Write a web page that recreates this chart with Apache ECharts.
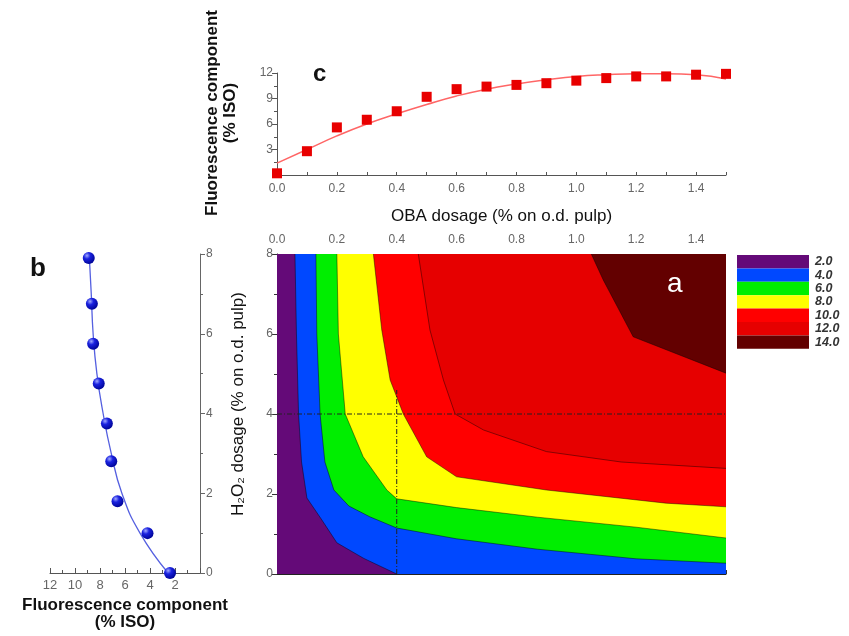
<!DOCTYPE html>
<html>
<head>
<meta charset="utf-8">
<script src="https://cdn.jsdelivr.net/npm/echarts@6/dist/echarts.min.js"></script>
<style>
  html, body { margin: 0; padding: 0; background: #fff; }
  #chart { width: 849px; height: 636px; }
</style>
</head>
<body>
<div id="chart"></div>
<script>
// panel c: fluorescence vs OBA dosage
const obaDose = [0, 0.1, 0.2, 0.3, 0.4, 0.5, 0.6, 0.7, 0.8, 0.9, 1.0, 1.1, 1.2, 1.3, 1.4, 1.5];
const fluorOba = [0.2, 2.8, 5.6, 6.5, 7.5, 9.2, 10.1, 10.4, 10.6, 10.8, 11.1, 11.4, 11.6, 11.6, 11.8, 11.9];
const fitOba = [1.4, 3.0, 4.6, 6.0, 7.2, 8.3, 9.3, 10.1, 10.7, 11.2, 11.6, 11.8, 11.9, 11.9, 11.8, 11.3];

// panel b: fluorescence vs H2O2 dosage
const h2o2Dose = [0, 1.0, 1.8, 2.8, 3.75, 4.75, 5.75, 6.75, 7.9];
const fluorH2o2 = [2.4, 4.2, 6.6, 7.1, 7.45, 8.1, 8.55, 8.65, 8.9];
const fitH2o2Dose = [0, 1, 2, 3, 4, 5, 6, 7, 7.9];
const fitH2o2 = [2.55, 4.8, 6.25, 7.1, 7.75, 8.25, 8.55, 8.7, 8.85];

// panel a: contour levels and band boundaries [OBA, H2O2], top edge -> bottom/right edge
const contourLevels = [2, 4, 6, 8, 10, 12, 14];
const levelLabels = ['2.0', '4.0', '6.0', '8.0', '10.0', '12.0', '14.0'];
const bandColors = ['#640a78', '#0048ff', '#00ee00', '#ffff00', '#ff0000', '#e60000', '#630000'];
const contourBounds = [
  [[0, 8], [0, 0]],
  [[0.06, 8], [0.065, 6], [0.072, 4], [0.082, 2.8], [0.1, 1.9], [0.15, 1.35], [0.2, 0.78], [0.29, 0.39], [0.4, 0]],
  [[0.13, 8], [0.133, 6], [0.144, 4], [0.16, 2.8], [0.19, 2.1], [0.24, 1.7], [0.31, 1.43], [0.4, 1.15], [0.6, 0.88], [0.87, 0.62], [1.2, 0.38], [1.5, 0.27]],
  [[0.2, 8], [0.205, 6], [0.228, 4], [0.288, 2.93], [0.367, 2.1], [0.4, 1.88], [0.6, 1.66], [0.87, 1.42], [1.2, 1.17], [1.5, 0.9]],
  [[0.322, 8], [0.35, 6.1], [0.378, 4.85], [0.422, 4], [0.5, 2.93], [0.6, 2.43], [0.9, 2.1], [1.3, 1.77], [1.5, 1.68]],
  [[0.472, 8], [0.511, 6.1], [0.556, 4.85], [0.595, 4.0], [0.69, 3.6], [0.9, 3.06], [1.15, 2.8], [1.5, 2.64]],
  [[1.05, 8], [1.09, 7.35], [1.19, 5.93], [1.5, 5.02]]
];
const optLineH = [[0, 4], [1.5, 4]];
const optLineV = [[0.4, 0], [0.4, 4.6]];

const chart = echarts.init(document.getElementById('chart'));

const font = 'Liberation Sans, Arial, sans-serif';
const grey = '#666';
const evenTenth = v => (Math.round(v * 10) % 2 === 0 ? v.toFixed(1) : '');

function bandPolygon(i) {
  const pts = contourBounds[i].slice();
  const last = pts[pts.length - 1];
  if (last[1] === 0) pts.push([1.5, 0]);
  pts.push([1.5, 8]);
  return pts;
}

const option = {
  animation: false,
  textStyle: { fontFamily: font },
  grid: [
    { left: 277, top: 73, width: 449, height: 102 },
    { left: 277, top: 254, width: 449, height: 320 },
    { left: 50, top: 254, width: 150, height: 320 }
  ],
  xAxis: [
    {
      gridIndex: 0, type: 'value', min: 0, max: 1.5, interval: 0.1,
      axisLine: { lineStyle: { color: '#555' } },
      axisTick: { inside: true, length: 3, lineStyle: { color: '#555' } },
      splitLine: { show: false },
      axisLabel: { color: grey, fontSize: 12, margin: 8, formatter: evenTenth },
      name: 'OBA dosage (% on o.d. pulp)', nameLocation: 'middle', nameGap: 33,
      nameTextStyle: { color: '#111', fontSize: 17 }
    },
    {
      gridIndex: 1, type: 'value', position: 'top', min: 0, max: 1.5, interval: 0.1,
      axisLine: { lineStyle: { color: '#222' } },
      axisTick: { length: 4, lineStyle: { color: '#333' } },
      splitLine: { show: false },
      axisLabel: { color: grey, fontSize: 12, margin: 8, formatter: evenTenth }
    },
    {
      gridIndex: 2, type: 'value', inverse: true, min: 0, max: 12, interval: 2,
      axisLine: { lineStyle: { color: '#555' } },
      axisTick: { inside: true, length: 5, lineStyle: { color: '#555' } },
      minorTick: { show: true, splitNumber: 2, length: 3, lineStyle: { color: '#555' } },
      splitLine: { show: false },
      axisLabel: { color: grey, fontSize: 13, margin: 6, formatter: v => (v === 0 ? '' : String(v)) },
      name: 'Fluorescence component\n(% ISO)', nameLocation: 'middle', nameGap: 24,
      nameTextStyle: { color: '#111', fontSize: 17, fontWeight: 'bold', lineHeight: 17 }
    }
  ],
  yAxis: [
    {
      gridIndex: 0, type: 'value', min: 0, max: 12, interval: 3,
      axisLine: { show: true, lineStyle: { color: '#555' } },
      axisTick: { show: true, length: 5, lineStyle: { color: '#555' } },
      minorTick: { show: true, splitNumber: 2, length: 3, lineStyle: { color: '#555' } },
      splitLine: { show: false },
      axisLabel: { color: grey, fontSize: 12, margin: 4, formatter: v => (v === 0 ? '' : String(v)) },
      name: 'Fluorescence component\n(% ISO)', nameLocation: 'middle', nameRotate: 90, nameGap: 38,
      nameTextStyle: { color: '#111', fontSize: 17, fontWeight: 'bold', lineHeight: 18, padding: [0, 0, 0, 22] }
    },
    {
      gridIndex: 1, type: 'value', min: 0, max: 8, interval: 2,
      axisLine: { show: true, lineStyle: { color: '#222' } },
      axisTick: { show: true, length: 5, lineStyle: { color: '#333' } },
      minorTick: { show: true, splitNumber: 2, length: 3, lineStyle: { color: '#333' } },
      splitLine: { show: false },
      axisLabel: { color: grey, fontSize: 12, margin: 4 },
      name: 'H\u2082O\u2082 dosage (% on o.d. pulp)', nameLocation: 'middle', nameRotate: 90, nameGap: 30,
      nameTextStyle: { color: '#111', fontSize: 17, padding: [0, 0, 0, 20] }
    },
    {
      gridIndex: 2, type: 'value', position: 'right', min: 0, max: 8, interval: 2,
      axisLine: { show: true, lineStyle: { color: '#666' } },
      axisTick: { show: true, length: 5, lineStyle: { color: '#666' } },
      minorTick: { show: true, splitNumber: 2, length: 3, lineStyle: { color: '#666' } },
      splitLine: { show: false },
      axisLabel: { color: grey, fontSize: 12, margin: 6 }
    }
  ],
  visualMap: {
    type: 'piecewise', seriesIndex: 2, dimension: 0,
    pieces: contourLevels.map((v, i) => ({ value: v, label: levelLabels[i], color: bandColors[i] })),
    orient: 'vertical', inverse: true, align: 'left', left: 737, top: 255, padding: 0,
    itemWidth: 72, itemHeight: 13.4, itemGap: 0, itemSymbol: 'rect', textGap: 6,
    hoverLink: false, selectedMode: false,
    textStyle: { color: '#333', fontSize: 12.5, fontStyle: 'italic', fontWeight: 'bold' }
  },
  graphic: [
    { type: 'text', z: 100, left: 313, top: 62, style: { text: 'c', font: 'bold 24px ' + font, fill: '#111' } },
    { type: 'text', z: 100, left: 30, top: 256, style: { text: 'b', font: 'bold 26px ' + font, fill: '#111' } },
    { type: 'text', z: 100, left: 667, top: 270, style: { text: 'a', font: '28px ' + font, fill: '#fff' } }
  ],
  series: [
    {
      type: 'scatter', xAxisIndex: 0, yAxisIndex: 0, symbol: 'rect', symbolSize: 10,
      itemStyle: { color: '#e80000', opacity: 1 }, z: 3,
      data: obaDose.map((x, i) => [x, fluorOba[i]])
    },
    {
      type: 'line', xAxisIndex: 0, yAxisIndex: 0, smooth: true, showSymbol: false,
      lineStyle: { color: '#ff6666', width: 1.5 },
      data: obaDose.map((x, i) => [x, fitOba[i]])
    },
    {
      type: 'custom', xAxisIndex: 1, yAxisIndex: 1,
      data: contourLevels.map(v => [v]),
      renderItem(params, api) {
        const i = params.dataIndex;
        const children = [{
          type: 'polygon',
          shape: { points: bandPolygon(i).map(p => api.coord(p)) },
          style: { fill: api.visual('color') }
        }];
        if (i > 0) {
          children.push({
            type: 'polyline',
            shape: { points: contourBounds[i].map(p => api.coord(p)) },
            style: { stroke: 'rgba(0,0,0,0.55)', lineWidth: 0.8, fill: null }
          });
        }
        return { type: 'group', children };
      }
    },
    {
      type: 'line', xAxisIndex: 1, yAxisIndex: 1, showSymbol: false, z: 4,
      lineStyle: { color: '#222', width: 1, type: [5, 2, 1, 2] },
      data: optLineH
    },
    {
      type: 'line', xAxisIndex: 1, yAxisIndex: 1, showSymbol: false, z: 4,
      lineStyle: { color: '#222', width: 1, type: [5, 2, 1, 2] },
      data: optLineV
    },
    {
      type: 'line', xAxisIndex: 2, yAxisIndex: 2, smooth: true, showSymbol: false,
      lineStyle: { color: '#5560e0', width: 1.3 },
      data: fitH2o2Dose.map((y, i) => [fitH2o2[i], y])
    },
    {
      type: 'scatter', xAxisIndex: 2, yAxisIndex: 2, symbol: 'circle', symbolSize: 12, z: 3,
      itemStyle: {
        opacity: 1,
        color: new echarts.graphic.RadialGradient(0.35, 0.3, 0.7, [
          { offset: 0, color: '#a0a8ff' },
          { offset: 0.4, color: '#1a22e0' },
          { offset: 1, color: '#00059a' }
        ])
      },
      data: h2o2Dose.map((y, i) => [fluorH2o2[i], y])
    }
  ]
};

chart.setOption(option);
</script>
</body>
</html>
